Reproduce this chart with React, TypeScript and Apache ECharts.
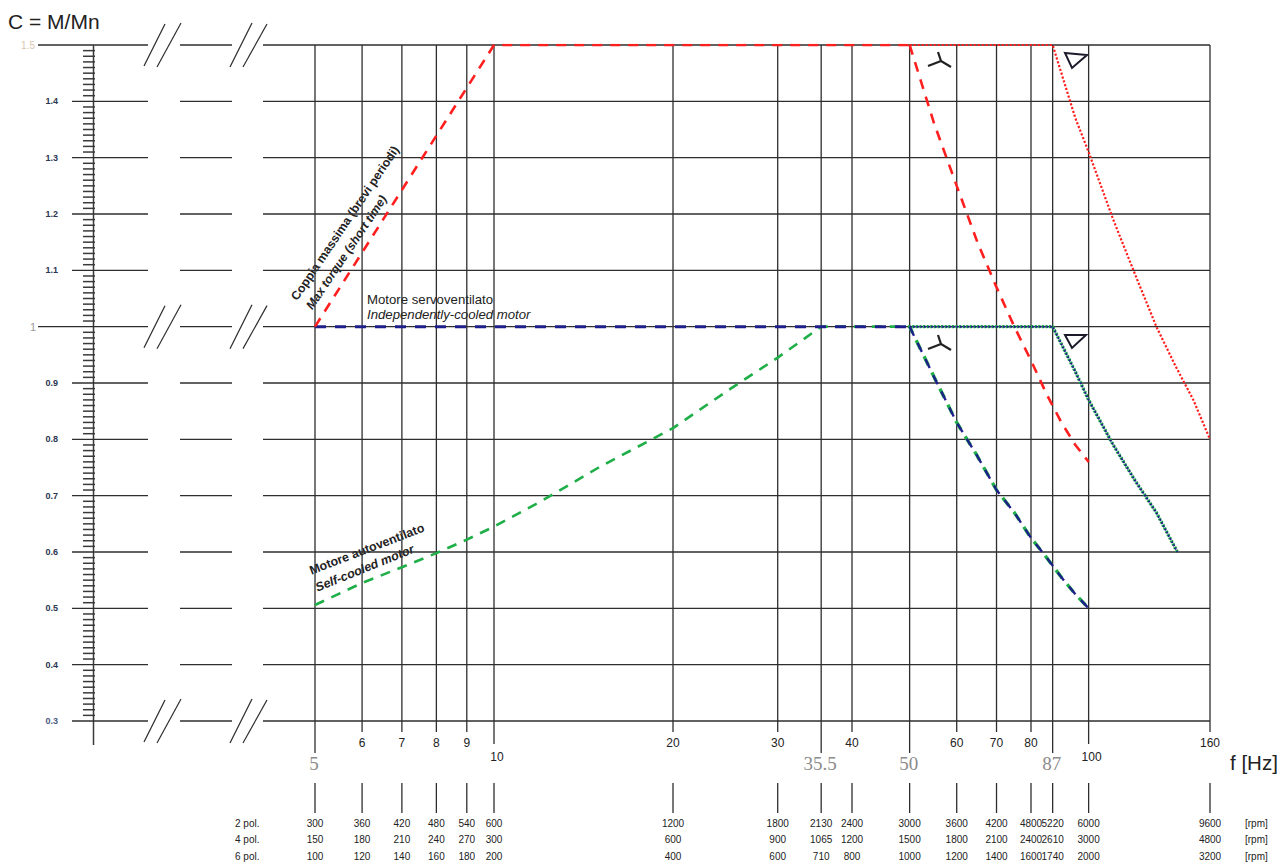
import React, { useEffect, useRef } from "react";
import * as echarts from "echarts";

// ---------- axis ticks ----------
const freqTicks = [5, 6, 7, 8, 9, 10, 20, 30, 35.5, 40, 50, 60, 70, 80, 87, 100, 160];
const freqLabels = ["5", "6", "7", "8", "9", "10", "20", "30", "35.5", "40", "50", "60", "70", "80", "87", "100", "160"];
const freqLabelKind = ["big", "n", "n", "n", "n", "low", "n", "n", "big", "n", "big", "n", "n", "n", "big", "low", "n"];
const rpm2 = ["300", "360", "420", "480", "540", "600", "1200", "1800", "2130", "2400", "3000", "3600", "4200", "4800", "5220", "6000", "9600"];
const rpm4 = ["150", "180", "210", "240", "270", "300", "600", "900", "1065", "1200", "1500", "1800", "2100", "2400", "2610", "3000", "4800"];
const rpm6 = ["100", "120", "140", "160", "180", "200", "400", "600", "710", "800", "1000", "1200", "1400", "1600", "1740", "2000", "3200"];
const poleLabels = ["2 pol.", "4 pol.", "6 pol."];
const rpmUnit = "[rpm]";

const torqueTicks = [1.5, 1.4, 1.3, 1.2, 1.1, 1.0, 0.9, 0.8, 0.7, 0.6, 0.5, 0.4, 0.3];
const torqueLabels = ["1.5", "1.4", "1.3", "1.2", "1.1", "1", "0.9", "0.8", "0.7", "0.6", "0.5", "0.4", "0.3"];
const breakTicks = [1.5, 1.0, 0.3];

// ---------- curves (f [Hz], C = M/Mn) ----------
const maxTorqueRise = [[5, 1.0], [10, 1.5], [50, 1.5]];
const maxTorqueStar = [[50, 1.5], [55, 1.36], [60, 1.25], [65, 1.15], [70, 1.07], [75, 1.0], [80, 0.94], [85, 0.88], [90, 0.83], [95, 0.79], [100, 0.76]];
const maxTorqueDelta = [[50, 1.5], [87, 1.5], [95, 1.37], [100, 1.31], [110, 1.19], [120, 1.09], [130, 1.0], [140, 0.93], [150, 0.87], [160, 0.8]];
const servoFlat = [[5, 1.0], [50, 1.0]];
const servoStar = [[50, 1.0], [55, 0.91], [60, 0.83], [65, 0.77], [70, 0.71], [75, 0.67], [80, 0.625], [85, 0.59], [90, 0.555], [95, 0.525], [100, 0.5]];
const servoDelta = [[50, 1.0], [87, 1.0], [95, 0.92], [100, 0.87], [110, 0.79], [120, 0.725], [130, 0.67], [141, 0.6]];
const selfRise = [[5, 0.506], [6, 0.545], [7, 0.573], [8, 0.598], [9, 0.622], [10, 0.645], [12, 0.69], [15, 0.75], [20, 0.82], [25, 0.89], [30, 0.945], [35.5, 1.0], [50, 1.0]];
const selfStar = [[50, 1.0], [55, 0.91], [60, 0.83], [65, 0.77], [70, 0.71], [75, 0.67], [80, 0.625], [85, 0.59], [90, 0.555], [95, 0.525], [100, 0.5]];
const selfDelta = [[50, 1.0], [87, 1.0], [95, 0.92], [100, 0.87], [110, 0.79], [120, 0.725], [130, 0.67], [141, 0.6]];

const SANS = "'Liberation Sans', Arial, sans-serif";
const SERIF = "'Liberation Serif', 'DejaVu Serif', serif";
const GRID = "#2e2e2e";
const RED = "#ff1f1f";
const BLUE = "#1f1f8c";
const GREEN = "#1fae48";

function txt(x: number, y: number, text: string, o: any = {}) {
  const align = o.align || "center";
  const valign = o.valign || "middle";
  return {
    type: "text",
    x,
    y,
    rotation: o.rotation || 0,
    silent: true,
    style: {
      text,
      fill: o.color || "#222",
      fontSize: o.size || 11,
      fontFamily: o.family || SANS,
      fontWeight: o.weight || "normal",
      fontStyle: o.style || "normal",
      align,
      verticalAlign: valign,
      textAlign: align,
      textVerticalAlign: valign,
    },
  };
}

function seg(x1: number, y1: number, x2: number, y2: number, color = GRID, w = 1.3) {
  return { type: "line", silent: true, shape: { x1, y1, x2, y2 }, style: { stroke: color, lineWidth: w } };
}

function lineSeries(data: number[][], color: string, width: number, dash: number[], z: number, offset = 0) {
  return {
    type: "line",
    data,
    showSymbol: false,
    symbol: "none",
    silent: true,
    z,
    lineStyle: { color, width, type: dash, dashOffset: offset, cap: "butt" },
  };
}

export default function App() {
  const ref = useRef<HTMLDivElement>(null);
  useEffect(() => {
    const chart = echarts.init(ref.current!, null, { renderer: "svg" });

    const renderFreq = (params: any, api: any) => {
      const i = params.dataIndex;
      const f = freqTicks[i];
      const top = api.coord([f, 1.5]);
      const bot = api.coord([f, 0.3]);
      const x = top[0];
      const kind = freqLabelKind[i];
      const ext = kind === "big" ? 32 : kind === "low" ? 23 : 11;
      const children: any[] = [seg(x, top[1], x, bot[1] + ext)];
      if (kind === "big") {
        children.push(txt(x - 1, bot[1] + 42, freqLabels[i], { size: 19, family: SERIF, color: "#8c8c8c" }));
      } else if (kind === "low") {
        children.push(txt(x + 3, bot[1] + 36, freqLabels[i], { size: 12 }));
      } else {
        children.push(txt(x, bot[1] + 22, freqLabels[i], { size: 12 }));
      }
      children.push(seg(x, bot[1] + 62, x, bot[1] + 92));
      children.push(txt(x, bot[1] + 102, rpm2[i], { size: 10 }));
      children.push(txt(x, bot[1] + 118, rpm4[i], { size: 10 }));
      children.push(txt(x, bot[1] + 135, rpm6[i], { size: 10 }));
      if (i === freqTicks.length - 1) {
        [102, 118, 135].forEach((dy, k) => {
          children.push(txt(1245, bot[1] + dy, rpmUnit, { size: 10, align: "left" }));
          children.push(txt(235, bot[1] + dy, poleLabels[k], { size: 10, align: "left" }));
        });
        children.push(txt(1230, bot[1] + 41, "f [Hz]", { size: 20.5, align: "left" }));
      }
      return { type: "group", children };
    };

    const renderTorque = (params: any, api: any) => {
      const i = params.dataIndex;
      const v = torqueTicks[i];
      const p = api.coord([5, v]);
      const y = p[1];
      const xRight = api.coord([160, v])[0];
      const isBreak = breakTicks.indexOf(v) >= 0;
      const start = v === 1.5 || v === 1.0 ? 38 : 72;
      const children: any[] = [
        seg(start, y, 148, y),
        seg(180, y, 232, y),
        seg(263, y, xRight, y),
      ];
      if (isBreak) {
        children.push(seg(144, y + 21, 165, y - 21, GRID, 1.2));
        children.push(seg(157, y + 22, 181, y - 22, GRID, 1.2));
        children.push(seg(230, y + 22, 252, y - 22, GRID, 1.2));
        children.push(seg(243, y + 22, 267, y - 21, GRID, 1.2));
      }
      if (v === 1.5) {
        children.push(txt(35, y, torqueLabels[i], { size: 10, align: "right", color: "#d9c6ad" }));
        const yb = api.coord([5, 0.3])[1];
        children.push(seg(93.5, y, 93.5, yb + 24, "#3a3a3a", 1.5));
      } else if (v === 1.0) {
        children.push(txt(36, y, torqueLabels[i], { size: 11, align: "right", color: "#9a9a9a" }));
      } else if (v === 0.3) {
        children.push(txt(58, y, torqueLabels[i], { size: 9, align: "right", color: "#4a5a80", weight: "bold" }));
      } else {
        children.push(txt(58, y, torqueLabels[i], { size: 9, align: "right", color: "#2a3550", weight: "bold" }));
      }
      if (i < torqueTicks.length - 1) {
        for (let k = 1; k <= 9; k++) {
          const yy = api.coord([5, v - k * 0.01])[1];
          children.push(seg(83, yy, 95, yy, "#3a3a3a", 1.5));
        }
      }
      return { type: "group", children };
    };

    const deg = Math.PI / 180;
    const graphics: any[] = [
      txt(8, 21, "C = M/Mn", { size: 21, align: "left" }),
      txt(294, 299, "Coppia massima (brevi periodi)", { size: 12.3, weight: "bold", align: "left", rotation: 56 * deg }),
      txt(309, 308, "Max torque (short time)", { size: 12.1, weight: "bold", style: "italic", align: "left", rotation: 56 * deg }),
      txt(367, 299, "Motore servoventilato", { size: 13.2, align: "left" }),
      txt(367, 314, "Independently-cooled motor", { size: 13.2, style: "italic", align: "left" }),
      txt(310, 571, "Motore autoventilato", { size: 12.4, weight: "bold", align: "left", rotation: 21 * deg }),
      txt(316, 588, "Self-cooled motor", { size: 12.4, weight: "bold", style: "italic", align: "left", rotation: 22 * deg }),
      { type: "polyline", silent: true, shape: { points: [[938, 52], [941, 61], [951, 67]] }, style: { stroke: "#222", lineWidth: 2.2, fill: "none" } },
      seg(941, 61, 928, 66, "#222", 2.2),
      { type: "polyline", silent: true, shape: { points: [[938, 335], [941, 344], [951, 350]] }, style: { stroke: "#222", lineWidth: 2.2, fill: "none" } },
      seg(941, 344, 928, 349, "#222", 2.2),
      { type: "polygon", silent: true, shape: { points: [[1065, 53], [1087, 55], [1072, 68]] }, style: { stroke: "#1a1a2a", lineWidth: 2, fill: "none" } },
      { type: "polygon", silent: true, shape: { points: [[1065, 335], [1086, 335], [1072, 348]] }, style: { stroke: "#1a1a2a", lineWidth: 2, fill: "none" } },
    ];

    chart.setOption({
      animation: false,
      backgroundColor: "#ffffff",
      grid: { left: 315, right: 71, top: 45, bottom: 142 },
      xAxis: {
        type: "log",
        logBase: 10,
        min: 5,
        max: 160,
        axisLine: { show: false },
        axisTick: { show: false },
        axisLabel: { show: false },
        splitLine: { show: false },
        minorSplitLine: { show: false },
      },
      yAxis: {
        type: "value",
        min: 0.3,
        max: 1.5,
        interval: 0.1,
        axisLine: { show: false },
        axisTick: { show: false },
        axisLabel: { show: false },
        splitLine: { show: false },
      },
      series: [
        {
          type: "custom",
          coordinateSystem: "cartesian2d",
          clip: false,
          silent: true,
          z: 1,
          data: freqTicks.map((f) => [f, 0.3]),
          renderItem: renderFreq,
        },
        {
          type: "custom",
          coordinateSystem: "cartesian2d",
          clip: false,
          silent: true,
          z: 1,
          data: torqueTicks.map((v) => [5, v]),
          renderItem: renderTorque,
        },
        lineSeries(selfRise, GREEN, 2.6, [10, 8], 4),
        lineSeries(selfDelta, GREEN, 3.4, [2, 1.6], 4, 1),
        lineSeries(selfStar, GREEN, 3.4, [10, 8], 4, 3),
        lineSeries(servoFlat, BLUE, 3, [11, 9], 5),
        lineSeries(servoDelta, BLUE, 2, [2, 1.6], 5),
        lineSeries(servoStar, BLUE, 2.4, [10, 8], 5),
        lineSeries(maxTorqueRise, RED, 2.6, [10, 8], 6),
        lineSeries(maxTorqueStar, RED, 2.6, [10, 8], 6),
        lineSeries(maxTorqueDelta, RED, 2.2, [2.2, 1.8], 6),
      ],
      graphic: graphics,
    });
    return () => chart.dispose();
  }, []);
  return (
    <div
      ref={ref}
      style={{ position: "absolute", left: 0, top: 0, width: 1281, height: 863, background: "#fff" }}
    />
  );
}
